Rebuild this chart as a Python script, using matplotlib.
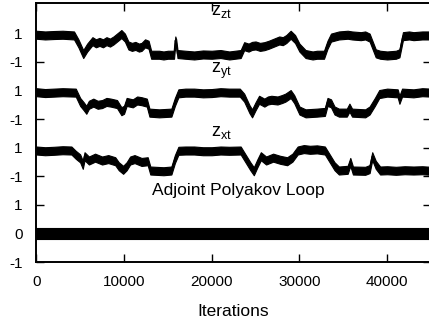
import numpy as np
import matplotlib
matplotlib.use("Agg")
import matplotlib.pyplot as plt

plt.rcParams['font.family'] = ['Liberation Sans', 'DejaVu Sans']
plt.rcParams['mathtext.fontset'] = 'custom'
plt.rcParams['mathtext.rm'] = 'Liberation Sans'

# ---- data (iteration knots, value in [-1, 1]) ----
zzt_iter = [0, 1000, 2000, 3000, 4300, 4800, 5350, 5800, 6400, 6800, 7200, 7600,
            8000, 8400, 8800, 9300, 9700, 10100, 10500, 10900, 11300, 11700, 12000,
            12400, 12800, 13100, 14000, 14500, 15000, 15700, 15850, 15950, 16100,
            17000, 18000, 19000, 20000, 21000, 22000, 23300, 23700, 24200, 24600,
            25000, 25500, 26000, 26500, 26900, 27300, 27700, 28100, 28500, 29000,
            29500, 30000, 30700, 31500, 32000, 32800, 33200, 33600, 34500, 35500,
            36000, 37000, 37500, 38000, 38700, 39200, 40000, 41000, 41400, 41800,
            42500, 43000, 44000, 45000]
zzt_val = [0.9, 0.85, 0.88, 0.9, 0.85, 0.3, -0.45, 0.0, 0.45, 0.3, 0.4, 0.3,
           0.45, 0.35, 0.5, 0.75, 0.95, 0.7, 0.15, 0.05, 0.12, 0.0, 0.05,
           0.3, 0.2, -0.5, -0.5, -0.55, -0.5, -0.5, 0.5, 0.3, -0.45,
           -0.5, -0.55, -0.48, -0.5, -0.45, -0.55, -0.45, 0.1, 0.0, 0.12,
           0.15, 0.05, 0.1, 0.2, 0.3, 0.4, 0.5, 0.45, 0.6, 0.9,
           0.6, 0.0, -0.45, -0.55, -0.5, -0.5, 0.2, 0.7, 0.85, 0.9,
           0.85, 0.8, 0.85, 0.7, -0.4, -0.5, -0.55, -0.5, -0.4, 0.8,
           0.85, 0.8, 0.85, 0.85]

zyt_iter = [0, 1000, 2000, 3000, 4500, 5000, 5400, 5700, 6000, 6500, 7000, 7500,
            8000, 8500, 9200, 9700, 10000, 10300, 11000, 11500, 12000, 12600,
            12900, 14000, 15400, 15800, 16200, 17000, 18000, 19000, 20000, 21000,
            22000, 23200, 23700, 24300, 24600, 25000, 25400, 26000, 26400, 26800,
            27500, 28000, 28400, 29000, 29400, 30000, 30700, 32000, 32900, 33200,
            33600, 34000, 34500, 35400, 35700, 36000, 37500, 38000, 38600, 39100,
            40000, 41200, 41400, 41700, 43000, 44000, 45000]
zyt_val = [0.88, 0.82, 0.85, 0.88, 0.85, 0.2, -0.1, -0.35, 0.0, 0.15, 0.0, 0.05,
           0.2, 0.15, 0.05, -0.45, -0.35, 0.2, 0.1, 0.3, 0.25, 0.15,
           -0.55, -0.6, -0.55, 0.2, 0.8, 0.85, 0.85, 0.8, 0.82, 0.88,
           0.85, 0.85, 0.5, -0.3, -0.6, -0.1, 0.35, 0.15, 0.3, 0.35,
           0.3, 0.4, 0.5, 0.75, 0.4, -0.4, -0.6, -0.55, -0.5, 0.2,
           0.1, -0.4, -0.55, -0.55, -0.2, -0.55, -0.6, -0.4, 0.2, 0.75,
           0.85, 0.8, 0.35, 0.85, 0.8, 0.88, 0.85]

zxt_iter = [0, 1000, 2000, 3000, 4000, 4500, 5000, 5300, 5500, 6000, 6700, 7500,
            8200, 9000, 9400, 9900, 10300, 10700, 11200, 12000, 12700, 13000,
            14500, 15400, 15800, 16200, 17000, 18000, 19000, 20000, 21000, 22000,
            23300, 23800, 24400, 24800, 25200, 25600, 26200, 27000, 27800, 28600,
            29200, 29800, 30500, 31200, 32000, 32900, 33500, 34000, 34500, 35500,
            35800, 36100, 37500, 38000, 38300, 38700, 39200, 40000, 41000, 42000,
            43000, 44000, 45000]
zxt_val = [0.8, 0.75, 0.78, 0.82, 0.8, 0.5, 0.25, -0.2, 0.4, 0.1, 0.3, 0.1,
           0.2, 0.05, -0.3, -0.55, -0.3, 0.1, 0.2, 0.0, 0.05, -0.6,
           -0.65, -0.6, 0.2, 0.78, 0.8, 0.8, 0.75, 0.75, 0.8, 0.78,
           0.8, 0.3, -0.3, -0.65, -0.1, 0.4, 0.1, 0.3, 0.15, 0.05,
           0.3, 0.8, 0.9, 0.85, 0.88, 0.8, 0.2, -0.3, -0.6, -0.55,
           0.0, -0.6, -0.62, -0.5, 0.4, -0.2, -0.6, -0.58, -0.62, -0.58,
           -0.6, -0.58, -0.62]

poly_iter = [0, 45000]
poly_val = [0.0, 0.0]

series = [
    ("z_zt", zzt_iter, zzt_val),
    ("z_yt", zyt_iter, zyt_val),
    ("z_xt", zxt_iter, zxt_val),
]
offsets = [6.5, 4.5, 2.5]
scale = 0.5
labels = [r'$\mathregular{z_{zt}}$', r'$\mathregular{z_{yt}}$', r'$\mathregular{z_{xt}}$']
label_y = [7.65, 5.6, 3.4]

ytick_pos = [-1, 0, 1, 2, 3, 4, 5, 6, 7]
ytick_lab = ['-1', '0', '1', '-1', '1', '-1', '1', '-1', '1']
xtick_pos = [0, 10000, 20000, 30000, 40000]

W, H = 429, 326
fig = plt.figure(figsize=(W / 100, H / 100), dpi=100)
left, right, top, bottom = 36.3, 431.0, 3.3, 262.0
ax = fig.add_axes([left / W, 1 - bottom / H, (right - left) / W, (bottom - top) / H])

band_z = 0.14
for (name, it, v), off in zip(series, offsets):
    it = np.asarray(it, float)
    y = off + scale * np.asarray(v, float)
    ax.fill_between(it, y - band_z, y + band_z, color='black', linewidth=0.8)
    ax.plot(it, y, color='black', lw=1.0)

pi = np.asarray(poly_iter, float)
py = np.asarray(poly_val, float)
ax.fill_between(pi, py - 0.2, py + 0.2, color='black', linewidth=0.8)

for lab, ly in zip(labels, label_y):
    ax.text(19900, ly, lab, fontsize=13, ha='left', va='baseline')
ax.text(23000, 1.34, 'Adjoint Polyakov Loop', fontsize=12.5, ha='center', va='baseline')

ax.set_xlim(0, 45000)
ax.set_ylim(-1, 8.05)
ax.set_xticks(xtick_pos)
ax.set_xticklabels([str(t) for t in xtick_pos])
ax.set_yticks(ytick_pos)
ax.set_yticklabels(ytick_lab)
ax.tick_params(direction='in', length=6, width=1, labelsize=11,
               top=True, right=True, color='black')
ax.tick_params(axis='x', pad=9)
ax.tick_params(axis='y', pad=10)
for s in ax.spines.values():
    s.set_linewidth(1.4)
ax.set_xlabel('Iterations', fontsize=12.5, labelpad=11)

fig.savefig('out.png', dpi=100)
